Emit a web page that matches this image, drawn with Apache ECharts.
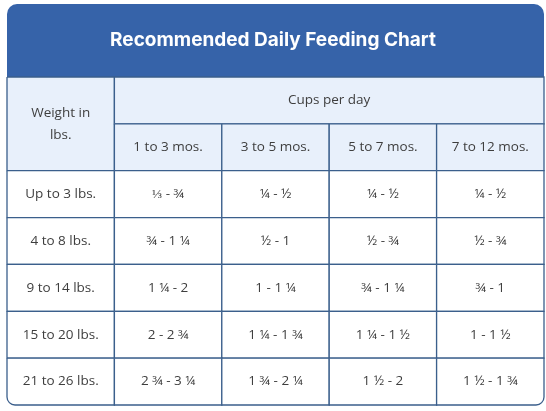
<!DOCTYPE html>
<html>
<head>
<meta charset="utf-8">
<script src="https://cdn.jsdelivr.net/npm/echarts@6/dist/echarts.min.js"></script>
<style>
html,body{margin:0;padding:0;background:#ffffff;}
#main{width:546px;height:411px;}
</style>
</head>
<body>
<div id="main"></div>
<script>
var chartTitle = 'Recommended Daily Feeding Chart';
var weightHeader = 'Weight in\nlbs.';
var groupHeader = 'Cups per day';
var ages = ['1 to 3 mos.', '3 to 5 mos.', '5 to 7 mos.', '7 to 12 mos.'];
var weights = ['Up to 3 lbs.', '4 to 8 lbs.', '9 to 14 lbs.', '15 to 20 lbs.', '21 to 26 lbs.'];
var cupsUpTo3 = ['⅓ - ¾', '¼ - ½', '¼ - ½', '¼ - ½'];
var cups4to8 = ['¾ - 1 ¼', '½ - 1', '½ - ¾', '½ - ¾'];
var cups9to14 = ['1 ¼ - 2', '1 - 1 ¼', '¾ - 1 ¼', '¾ - 1'];
var cups15to20 = ['2 - 2 ¾', '1 ¼ - 1 ¾', '1 ¼ - 1 ½', '1 - 1 ½'];
var cups21to26 = ['2 ¾ - 3 ¼', '1 ¾ - 2 ¼', '1 ½ - 2', '1 ½ - 1 ¾'];
var cupsRows = [cupsUpTo3, cups4to8, cups9to14, cups15to20, cups21to26];

// build cell table: [x0, y0, x1, y1, text, isHeader]
var cells = [];
cells.push([0, 0, 1, 2, weightHeader, 1]);
cells.push([1, 0, 5, 1, groupHeader, 1]);
ages.forEach(function (a, i) { cells.push([i + 1, 1, i + 2, 2, a, 1]); });
weights.forEach(function (w, r) {
  cells.push([0, r + 2, 1, r + 3, w, 0]);
  cupsRows[r].forEach(function (v, c) { cells.push([c + 1, r + 2, c + 2, r + 3, v, 0]); });
});
var nCols = ages.length + 1;
var nRows = weights.length + 2;

var BORDER = '#3b5f8c';
var chart = echarts.init(document.getElementById('main'));
chart.setOption({
  animation: false,
  title: {
    text: chartTitle,
    left: 'center',
    top: 26,
    textStyle: { color: '#ffffff', fontSize: 19, fontWeight: 'bold', fontFamily: 'Inter' }
  },
  graphic: [{
    type: 'rect',
    z: -1,
    shape: { x: 7, y: 4, width: 537, height: 73, r: [10, 10, 0, 0] },
    style: { fill: '#3663a9' }
  }],
  grid: { left: 7, right: 2, top: 77, bottom: 6 },
  xAxis: { type: 'value', min: 0, max: nCols, show: false },
  yAxis: { type: 'value', min: 0, max: nRows, inverse: true, show: false },
  series: [{
    type: 'custom',
    data: cells,
    encode: { x: [0, 2], y: [1, 3] },
    renderItem: function (params, api) {
      var x0 = api.value(0), y0 = api.value(1), x1 = api.value(2), y1 = api.value(3);
      var p0 = api.coord([x0, y0]);
      var p1 = api.coord([x1, y1]);
      var hdr = api.value(5) === 1;
      var r = [0, 0, 0, 0];
      if (y1 === nRows && x0 === 0) r = [0, 0, 0, 8];
      if (y1 === nRows && x1 === nCols) r = [0, 0, 8, 0];
      var text = cells[params.dataIndex][4];
      return {
        type: 'rect',
        shape: { x: p0[0], y: p0[1], width: p1[0] - p0[0], height: p1[1] - p0[1], r: r },
        style: {
          fill: hdr ? '#e8f0fb' : '#ffffff',
          stroke: BORDER,
          lineWidth: 1.3
        },
        textContent: {
          style: {
            text: text,
            fill: '#3e3e3e',
            fontSize: 13.5,
            fontFamily: 'Open Sans',
            lineHeight: 22,
            align: 'center',
            verticalAlign: 'middle'
          }
        },
        textConfig: { position: 'inside' }
      };
    }
  }]
});
</script>
</body>
</html>
